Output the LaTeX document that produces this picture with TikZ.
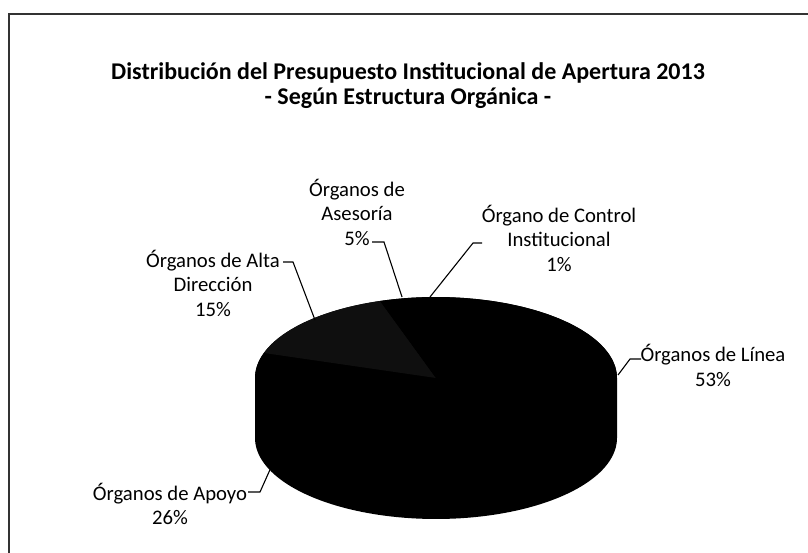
\documentclass[tikz,border=0pt]{standalone}
\usepackage{fontspec}
\setmainfont{Carlito}
\usetikzlibrary{calc}
\newcommand{\piecx}{436}
\newcommand{\piecy}{378}
\newcommand{\pierx}{181}
\newcommand{\piery}{81}
\newcommand{\piedepth}{60}
\newcommand{\topcolor}{black}
\newcommand{\sidecolor}{black}
\newcommand{\altacolor}{black!94}

\begin{document}
\begin{tikzpicture}[x=1pt, y=-1pt,
    leader/.style={line width=1.1pt},
    lbl/.style={align=center, font=\fontsize{20.7}{24.5}\selectfont},
    titlefont/.style={align=center, font=\bfseries\fontsize{24}{25}\selectfont}]
    \useasboundingbox (0,0) rectangle (808,553);

    % frame
    \draw[black!80, line width=1.3pt] (9,553) -- (9,14) -- (808,14);

    % title
    \node [titlefont] (title) at (408,86) {Distribución del Presupuesto Institucional de Apertura 2013\\- Según Estructura Orgánica -};

    % outline of the whole pie
    \fill[\sidecolor] plot[domain=0:180, samples=80] ({\piecx+\pierx*cos(\x)},{\piecy-\piery*sin(\x)})
        -- plot[domain=180:360, samples=80] ({\piecx+\pierx*cos(\x)},{\piecy+\piedepth-\piery*sin(\x)}) -- cycle;

    % top of the pie
    \foreach \from/\to/\col in {90/86.4/\topcolor, 86.4/-104.4/\topcolor, -104.4/-198/\topcolor, -198/-252/\altacolor, -252/-270/\topcolor}
        \fill[\col] (\piecx,\piecy) -- plot[domain=\from:\to, samples=40] ({\piecx+\pierx*cos(\x)},{\piecy-\piery*sin(\x)}) -- cycle;

    % points on the slices
    \coordinate (pCtrl) at (430,297);
    \coordinate (pLinea) at (618,375);
    \coordinate (pApoyo) at (273,463);
    \coordinate (pAlta) at (315,320);
    \coordinate (pAses) at (402,297);

    % labels
    \node [lbl] (lblAses) at (357,212) {Órganos de\\Asesoría\\5\%};
    \node [lbl] (lblCtrl) at (559,238) {Órgano de Control\\Institucional\\1\%};
    \node [lbl] (lblAlta) at (213,283) {Órganos de Alta\\Dirección\\15\%};
    \node [lbl] (lblLinea) at (713,365.5) {Órganos de Línea\\53\%};
    \node [lbl] (lblApoyo) at (170,504) {Órganos de Apoyo\\26\%};

    % leader lines
    \draw[leader] ($(lblAses.center)+(15,30)$) -- ++(12,0) -- (pAses);
    \draw[leader] ($(lblCtrl.center)+(-77,5)$) -- ++(-9,0) -- (pCtrl);
    \draw[leader] ($(lblAlta.center)+(70,-21)$) -- ++(10,0) -- (pAlta);
    \draw[leader] ($(lblLinea.center)+(-72,-6.5)$) -- ++(-11,0) -- (pLinea);
    \draw[leader] ($(lblApoyo.center)+(78,-12)$) -- ++(12,0) -- (pApoyo);
\end{tikzpicture}
\end{document}
